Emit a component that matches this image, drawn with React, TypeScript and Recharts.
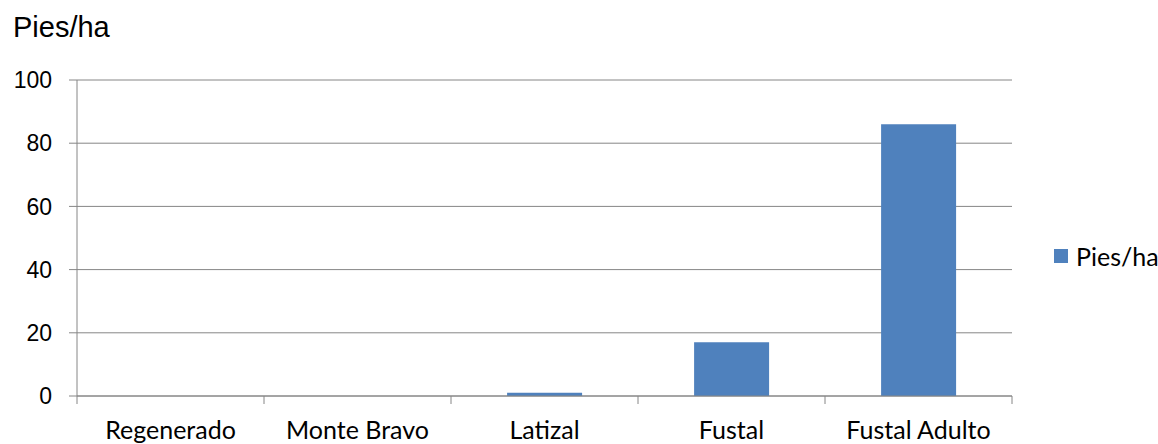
import React from 'react';
import { BarChart, Bar, XAxis, YAxis, CartesianGrid, Legend } from 'recharts';

const categories = ['Regenerado', 'Monte Bravo', 'Latizal', 'Fustal', 'Fustal Adulto'];
const piesHa = [0, 0, 1, 17, 86];
const yTicks = [0, 20, 40, 60, 80, 100];
const seriesName = 'Pies/ha';

const data = categories.map((c, i) => ({ name: c, value: piesHa[i] }));

const AXIS = '#868686';
const BAR = '#4F81BD';
const CAL = 'Lato, Carlito, Calibri, sans-serif';

const XTick = (props: any) => {
  const { x, y, payload, index, visibleTicksCount, width } = props;
  const half = payload && payload.offset ? payload.offset : width / visibleTicksCount / 2;
  const axisY = y - 25;
  return (
    <g>
      <line x1={x - half} x2={x - half} y1={axisY} y2={axisY + 8} stroke={AXIS} strokeWidth={1} />
      {index === visibleTicksCount - 1 && (
        <line x1={x + half} x2={x + half} y1={axisY} y2={axisY + 8} stroke={AXIS} strokeWidth={1} />
      )}
      <text x={x} y={y} dy="0.71em" textAnchor="middle" fill="#000" fontSize={25} fontFamily={CAL}>
        {payload.value}
      </text>
    </g>
  );
};

const LegendContent = () => (
  <div style={{ display: 'flex', alignItems: 'center', fontFamily: CAL, fontSize: 25, color: '#000', whiteSpace: 'nowrap' }}>
    <span style={{ display: 'inline-block', width: 14, height: 14, background: BAR, marginRight: 8 }} />
    <span>{seriesName}</span>
  </div>
);

export default function App() {
  return (
    <div style={{ position: 'absolute', left: 0, top: 0, width: 1158, height: 444, background: '#fff' }}>
      <div
        style={{
          position: 'absolute',
          left: 13,
          top: 13,
          fontFamily: '"Liberation Sans", Arial, sans-serif',
          fontSize: 29,
          lineHeight: '29px',
          color: '#000',
        }}
      >
        {seriesName}
      </div>
      <BarChart
        width={1158}
        height={444}
        data={data}
        margin={{ top: 80, right: 146, bottom: 0, left: 0 }}
        barCategoryGap="30%"
      >
        <CartesianGrid vertical={false} stroke={AXIS} strokeWidth={1} />
        <XAxis
          dataKey="name"
          height={48}
          axisLine={{ stroke: AXIS }}
          tickLine={false}
          tickSize={8}
          tickMargin={17}
          interval={0}
          tick={<XTick />}
        />
        <YAxis
          width={77}
          domain={[0, 100]}
          ticks={yTicks}
          axisLine={{ stroke: AXIS }}
          tickLine={{ stroke: AXIS }}
          tickSize={8}
          tickMargin={17}
          tick={{ fill: '#000', fontSize: 23, fontFamily: '"Liberation Sans", Arial, sans-serif' }}
        />
        <Legend
          layout="vertical"
          align="center"
          verticalAlign="middle"
          content={<LegendContent />}
          wrapperStyle={{ position: 'absolute', left: 1054, top: 241, width: 'auto' }}
        />
        <Bar dataKey="value" name={seriesName} fill={BAR} isAnimationActive={false} />
      </BarChart>
    </div>
  );
}
